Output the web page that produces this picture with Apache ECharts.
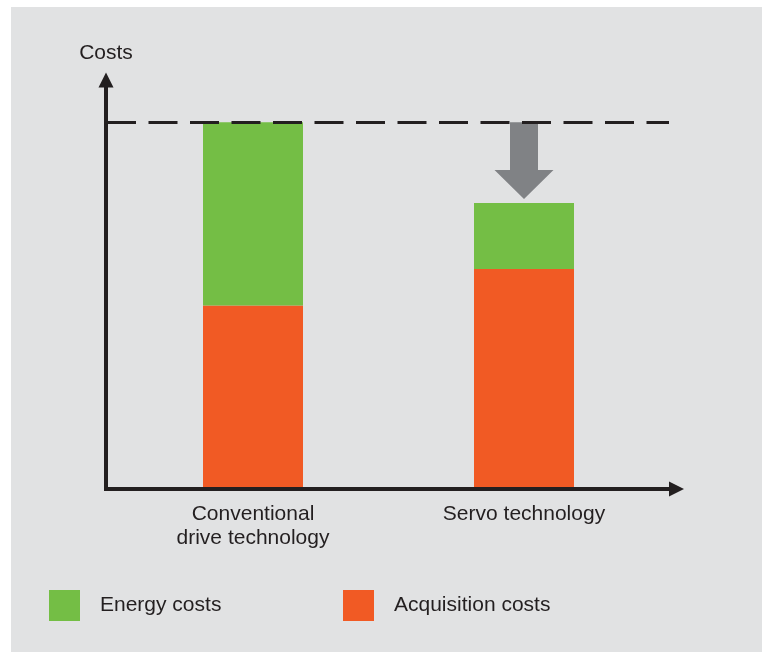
<!DOCTYPE html>
<html>
<head>
<meta charset="utf-8">
<script src="https://cdn.jsdelivr.net/npm/echarts@6/dist/echarts.min.js"></script>
<style>
  html, body { margin: 0; padding: 0; background: #ffffff; }
  #panel { position: absolute; left: 11px; top: 7px; width: 751px; height: 645px; background: #e1e2e3; }
  #chart { position: absolute; left: 0; top: 0; width: 762px; height: 652px; }
</style>
</head>
<body>
<div id="panel"></div>
<div id="chart"></div>
<script>
// ---- data ----
const categories = ['Conventional\ndrive technology', 'Servo technology'];
const acquisitionCosts = [50, 60];
const energyCosts = [50, 18];
const seriesNames = ['Acquisition costs', 'Energy costs'];
const axisName = 'Costs';
const yMax = 111.5;

const TEXT = '#231f20';
const FONT = 'Liberation Sans, Arial, Helvetica, sans-serif';
const GREEN = '#74be45';
const ORANGE = '#f15a24';
const GRAY = '#808285';

const conventionalTotal = acquisitionCosts[0] + energyCosts[0];
const servoTotal = acquisitionCosts[1] + energyCosts[1];

const chart = echarts.init(document.getElementById('chart'), null, { renderer: 'canvas' });

const hiddenBits = {
  axisTick: { show: false },
  axisLabel: { show: false },
  splitLine: { show: false }
};

const option = {
  backgroundColor: 'transparent',
  animation: false,
  textStyle: { fontFamily: FONT, color: TEXT },
  grid: [
    { left: 106, right: 85.5, top: 80, bottom: 163 },
    { left: 117.5, right: 102.5, top: 80, bottom: 163 }
  ],
  xAxis: [
    Object.assign({
      gridIndex: 0, type: 'value', min: 0, max: 1, z: 10,
      axisLine: { show: true, symbol: ['none', 'triangle'], symbolSize: [15, 15],
        lineStyle: { color: TEXT, width: 4, cap: 'square' } }
    }, hiddenBits),
    {
      gridIndex: 1, type: 'category', data: categories,
      axisLine: { show: false }, axisTick: { show: false }, splitLine: { show: false },
      axisLabel: { color: TEXT, fontSize: 21, lineHeight: 24, margin: 13, fontFamily: FONT }
    }
  ],
  yAxis: [
    Object.assign({
      gridIndex: 0, type: 'value', min: 0, max: yMax, z: 10,
      name: axisName, nameLocation: 'end', nameGap: 27,
      nameTextStyle: { color: TEXT, fontSize: 21, fontFamily: FONT, align: 'center', verticalAlign: 'middle' },
      axisLine: { show: true, symbol: ['none', 'triangle'], symbolSize: [15, 15],
        lineStyle: { color: TEXT, width: 4, cap: 'square' } }
    }, hiddenBits),
    Object.assign({
      gridIndex: 1, type: 'value', min: 0, max: yMax, show: false
    }, hiddenBits)
  ],
  legend: [
    {
      left: 49, top: 590, padding: 0, orient: 'horizontal',
      data: [seriesNames[1]], icon: 'rect', itemWidth: 31, itemHeight: 31,
      selectedMode: false,
      textStyle: { color: TEXT, fontSize: 21, fontFamily: FONT, padding: [0, 0, 0, 15] }
    },
    {
      left: 343, top: 590, padding: 0, orient: 'horizontal',
      data: [seriesNames[0]], icon: 'rect', itemWidth: 31, itemHeight: 31,
      selectedMode: false,
      textStyle: { color: TEXT, fontSize: 21, fontFamily: FONT, padding: [0, 0, 0, 15] }
    }
  ],
  series: [
    {
      name: seriesNames[0], type: 'bar', stack: 'cost',
      xAxisIndex: 1, yAxisIndex: 1, barWidth: 100,
      itemStyle: { color: ORANGE },
      data: acquisitionCosts, silent: true
    },
    {
      name: seriesNames[1], type: 'bar', stack: 'cost',
      xAxisIndex: 1, yAxisIndex: 1, barWidth: 100,
      itemStyle: { color: GREEN },
      data: energyCosts, silent: true,
      markLine: {
        silent: true, symbol: ['none', 'none'], z: 5,
        label: { show: false },
        emphasis: { disabled: true },
        lineStyle: { color: TEXT, width: 3, type: [29, 12.5] },
        data: [[{ x: 107, yAxis: conventionalTotal }, { x: 669, yAxis: conventionalTotal }]]
      }
    }
  ]
};

chart.setOption(option);

// Gray reduction arrow, positioned through the chart's own scales
const arrowStart = chart.convertToPixel({ xAxisIndex: 1, yAxisIndex: 1 }, [1, conventionalTotal]);
const arrowEnd = chart.convertToPixel({ xAxisIndex: 1, yAxisIndex: 1 }, [1, servoTotal]);
const cx = arrowStart[0];
const yTop = arrowStart[1];
const tipY = arrowEnd[1] - 4;
const headH = 29, shaftHalf = 14, headHalf = 29.5;
chart.setOption({
  graphic: [{
    type: 'polygon', z: 1, silent: true,
    shape: { points: [
      [cx - shaftHalf, yTop], [cx + shaftHalf, yTop], [cx + shaftHalf, tipY - headH],
      [cx + headHalf, tipY - headH], [cx, tipY], [cx - headHalf, tipY - headH],
      [cx - shaftHalf, tipY - headH]
    ] },
    style: { fill: GRAY }
  }]
});
</script>
</body>
</html>
